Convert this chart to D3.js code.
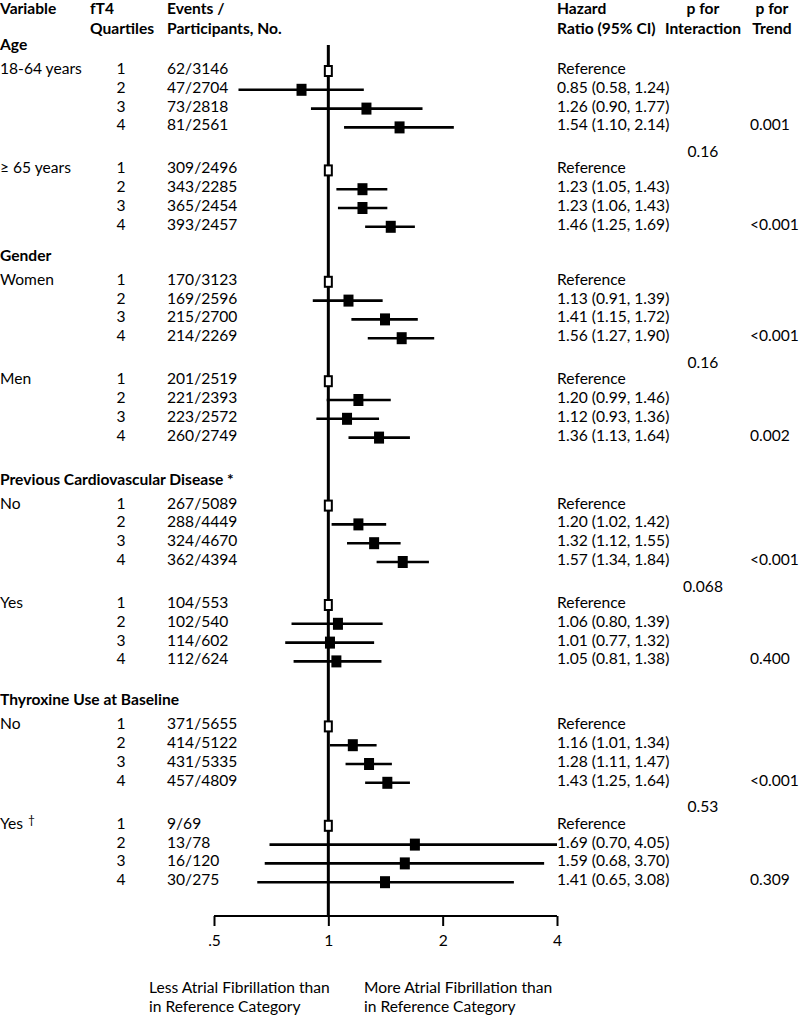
<!DOCTYPE html>
<html>
<head>
  <meta charset="utf-8">
  <title>fT4 quartiles forest plot</title>
  <script src="https://cdn.jsdelivr.net/npm/d3@7"></script>
  <style>
    body { margin: 0; background: #fff; }
    svg text { font-family: Lato, "Open Sans", sans-serif; font-size: 15.6px; fill: #000; }
    .bold { font-weight: bold; }
  </style>
</head>
<body>
<script>
  // ---- data ----
  var sections = ["Age", "Gender", "Previous Cardiovascular Disease *", "Thyroxine Use at Baseline"];
  var subgroups = ["18-64 years", "\u2265 65 years", "Women", "Men", "No", "Yes", "No", "Yes"];
  var subgroupMark = ["", "", "", "", "", "", "", "\u2020"];
  var subgroupSection = [0, 0, 1, 1, 2, 2, 3, 3];
  var quartiles = [1, 2, 3, 4];

  var events = [
    [62, 47, 73, 81], [309, 343, 365, 393],
    [170, 169, 215, 214], [201, 221, 223, 260],
    [267, 288, 324, 362], [104, 102, 114, 112],
    [371, 414, 431, 457], [9, 13, 16, 30]
  ];
  var participants = [
    [3146, 2704, 2818, 2561], [2496, 2285, 2454, 2457],
    [3123, 2596, 2700, 2269], [2519, 2393, 2572, 2749],
    [5089, 4449, 4670, 4394], [553, 540, 602, 624],
    [5655, 5122, 5335, 4809], [69, 78, 120, 275]
  ];
  // quartile 1 is the reference (HR 1)
  var hr = [
    [1, 0.85, 1.26, 1.54], [1, 1.23, 1.23, 1.46],
    [1, 1.13, 1.41, 1.56], [1, 1.20, 1.12, 1.36],
    [1, 1.20, 1.32, 1.57], [1, 1.06, 1.01, 1.05],
    [1, 1.16, 1.28, 1.43], [1, 1.69, 1.59, 1.41]
  ];
  var lower = [
    [null, 0.58, 0.90, 1.10], [null, 1.05, 1.06, 1.25],
    [null, 0.91, 1.15, 1.27], [null, 0.99, 0.93, 1.13],
    [null, 1.02, 1.12, 1.34], [null, 0.80, 0.77, 0.81],
    [null, 1.01, 1.11, 1.25], [null, 0.70, 0.68, 0.65]
  ];
  var upper = [
    [null, 1.24, 1.77, 2.14], [null, 1.43, 1.43, 1.69],
    [null, 1.39, 1.72, 1.90], [null, 1.46, 1.36, 1.64],
    [null, 1.42, 1.55, 1.84], [null, 1.39, 1.32, 1.38],
    [null, 1.34, 1.47, 1.64], [null, 4.05, 3.70, 3.08]
  ];
  var pInteraction = ["0.16", "0.16", "0.068", "0.53"];
  var pTrend = ["0.001", "<0.001", "<0.001", "0.002", "<0.001", "0.400", "<0.001", "0.309"];
  var tickValues = [0.5, 1, 2, 4];
  var tickLabels = [".5", "1", "2", "4"];

  // ---- layout ----
  var width = 800, height = 1016;
  var firstRow = 71, rowStep = 18.8, subGap = 43;
  var sectionGap = [0, 55, 68, 65];
  var axisY = 916;

  var col = {variable: 0, quart: 121, events: 167, hr: 557, pint: 703, ptrend: 750};

  var x = d3.scaleLog().domain([0.5, 4]).range([214, 557]).clamp(true);

  // build row table (y positions) from the arrays above
  var rows = [], headings = [], interactions = [];
  var cursor = firstRow, lastY = null;
  subgroups.forEach(function(name, g) {
    var s = subgroupSection[g];
    var isFirstInSection = (g === 0 || subgroupSection[g - 1] !== s);
    if (g > 0) cursor = lastY + (isFirstInSection ? sectionGap[s] : subGap);
    if (isFirstInSection) headings.push({text: sections[s], y: cursor - 21});
    else interactions.push({text: pInteraction[s], y: (lastY + cursor) / 2 + 3});
    quartiles.forEach(function(q, i) {
      var y = cursor + i * rowStep;
      rows.push({
        g: g, q: q, y: y,
        label: i === 0 ? name : "",
        mark: i === 0 ? subgroupMark[g] : "",
        ev: events[g][i] + "/" + participants[g][i],
        hr: hr[g][i], lo: lower[g][i], hi: upper[g][i],
        trend: i === 3 ? pTrend[g] : ""
      });
      lastY = y;
    });
  });

  var svg = d3.select("body").append("svg")
      .attr("width", width)
      .attr("height", height);

  // column headers
  var headers = [
    {x: col.variable, anchor: "start", lines: ["Variable"]},
    {x: 90, anchor: "start", lines: ["fT4", "Quartiles"]},
    {x: col.events, anchor: "start", lines: ["Events /", "Participants, No."]},
    {x: col.hr, anchor: "start", lines: ["Hazard", "Ratio (95% CI)"]},
    {x: 703, anchor: "middle", lines: ["p for", "Interaction"]},
    {x: 772, anchor: "middle", lines: ["p for", "Trend"]}
  ];
  headers.forEach(function(h) {
    h.lines.forEach(function(t, i) {
      svg.append("text").attr("class", "bold")
          .attr("x", h.x).attr("y", 14 + i * 20)
          .attr("text-anchor", h.anchor).text(t);
    });
  });

  // section headings
  svg.selectAll("text.heading")
      .data(headings)
    .enter().append("text")
      .attr("class", "heading bold")
      .attr("x", col.variable)
      .attr("y", function(d) { return d.y; })
      .text(function(d) { return d.text; });

  // text columns
  var rowText = svg.selectAll("g.row")
      .data(rows)
    .enter().append("g")
      .attr("class", "row")
      .attr("transform", function(d) { return "translate(0," + (d.y + 3) + ")"; });

  var lab = rowText.append("text").attr("x", col.variable);
  lab.text(function(d) { return d.label; });
  lab.filter(function(d) { return d.mark; })
    .append("tspan").attr("dx", 5).attr("dy", -5).style("font-size", "12px")
      .text(function(d) { return d.mark; });

  rowText.append("text").attr("x", col.quart).attr("text-anchor", "middle")
      .text(function(d) { return d.q; });
  rowText.append("text").attr("x", col.events)
      .text(function(d) { return d.ev; });
  rowText.append("text").attr("x", col.hr)
      .text(function(d) {
        if (d.lo == null) return "Reference";
        return d.hr.toFixed(2) + " (" + d.lo.toFixed(2) + ", " + d.hi.toFixed(2) + ")";
      });
  rowText.append("text").attr("x", col.ptrend)
      .text(function(d) { return d.trend; });

  svg.selectAll("text.pint")
      .data(interactions)
    .enter().append("text")
      .attr("class", "pint")
      .attr("x", col.pint).attr("text-anchor", "middle")
      .attr("y", function(d) { return d.y + 5; })
      .text(function(d) { return d.text; });

  // reference line at HR = 1
  svg.append("line")
      .attr("x1", x(1)).attr("x2", x(1))
      .attr("y1", 45).attr("y2", axisY)
      .attr("stroke", "#000").attr("stroke-width", 3);

  // confidence intervals
  var ci = rows.filter(function(d) { return d.lo != null; });
  svg.selectAll("line.ci")
      .data(ci)
    .enter().append("line")
      .attr("class", "ci")
      .attr("x1", function(d) { return x(d.lo); })
      .attr("x2", function(d) { return x(d.hi); })
      .attr("y1", function(d) { return d.y; })
      .attr("y2", function(d) { return d.y; })
      .attr("stroke", "#000").attr("stroke-width", 2.6);

  svg.selectAll("rect.est")
      .data(ci)
    .enter().append("rect")
      .attr("class", "est")
      .attr("x", function(d) { return x(d.hr) - 5; })
      .attr("y", function(d) { return d.y - 6; })
      .attr("width", 10).attr("height", 12)
      .attr("fill", "#000");

  // reference quartile: open square
  svg.selectAll("rect.ref")
      .data(rows.filter(function(d) { return d.lo == null; }))
    .enter().append("rect")
      .attr("class", "ref")
      .attr("x", function(d) { return x(d.hr) - 3.5; })
      .attr("y", function(d) { return d.y - 5; })
      .attr("width", 7).attr("height", 10)
      .attr("fill", "#fff").attr("stroke", "#000").attr("stroke-width", 2);

  // axis
  var axis = d3.axisBottom(x)
      .tickValues(tickValues)
      .tickFormat(function(d, i) { return tickLabels[i]; })
      .tickSize(10)
      .tickPadding(9);

  var gAxis = svg.append("g")
      .attr("transform", "translate(0," + axisY + ")")
      .call(axis);
  gAxis.select(".domain").attr("d", "M" + x(0.5) + ",0H" + x(4))
      .attr("stroke", "#000").attr("stroke-width", 2);
  gAxis.selectAll(".tick line").attr("stroke", "#000").attr("stroke-width", 2);
  gAxis.selectAll(".tick text")
      .style("font-family", "Lato, sans-serif").style("font-size", "15.6px");

  // direction labels
  var notes = [
    {x: 149, lines: ["Less Atrial Fibrillation than", "in Reference Category"]},
    {x: 364, lines: ["More Atrial Fibrillation than", "in Reference Category"]}
  ];
  notes.forEach(function(n) {
    n.lines.forEach(function(t, i) {
      svg.append("text").attr("x", n.x).attr("y", 993 + i * 19).text(t);
    });
  });
</script>
</body>
</html>
